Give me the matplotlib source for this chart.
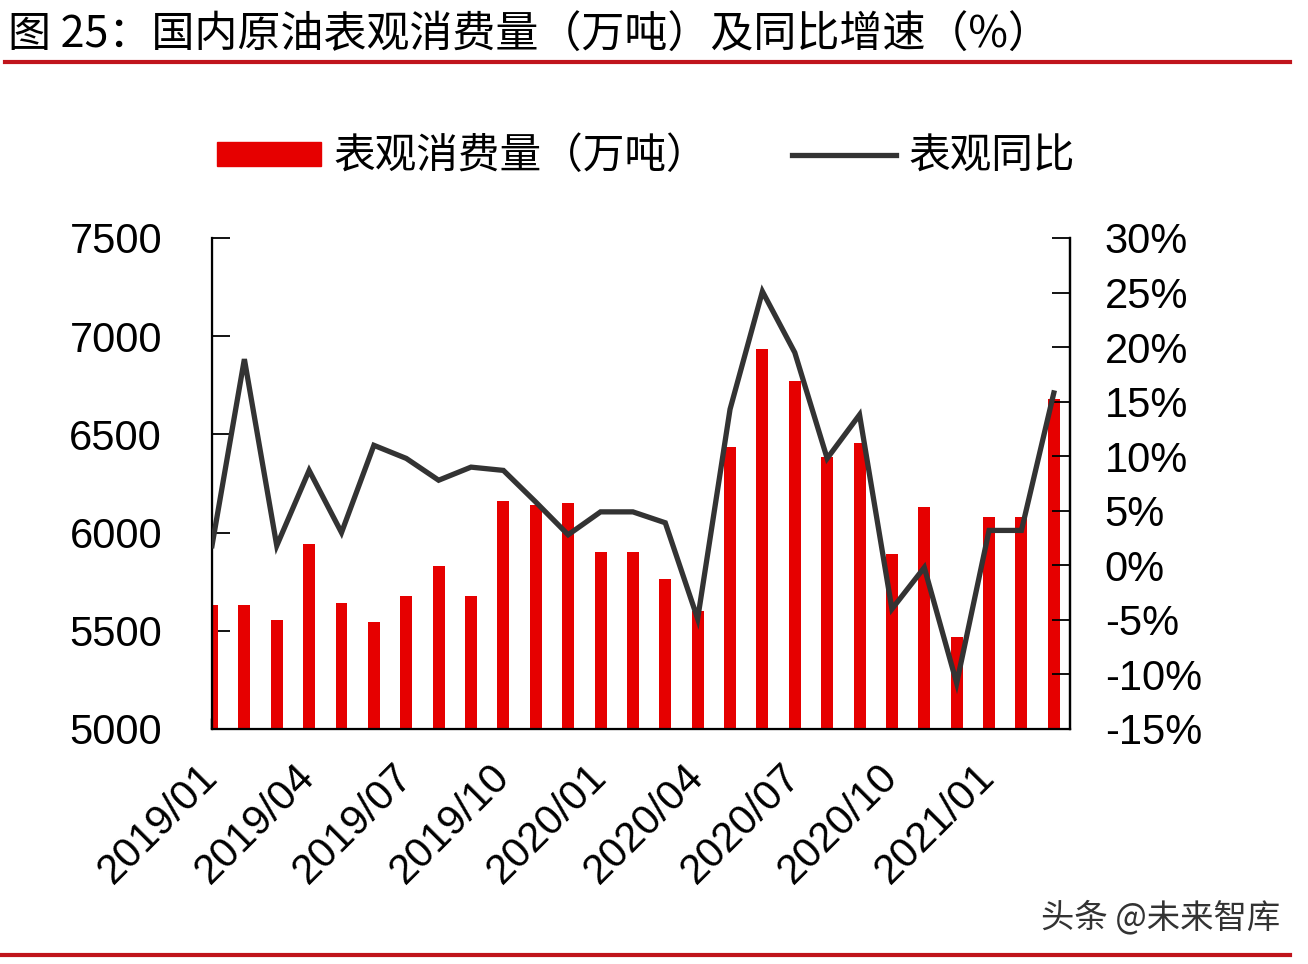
import numpy as np
import matplotlib
matplotlib.use("Agg")
import matplotlib.pyplot as plt
from matplotlib.patches import Patch
from matplotlib.lines import Line2D

plt.rcParams['font.family'] = ['Noto Sans CJK SC', 'DejaVu Sans']

months = ['2019/01', '2019/02', '2019/03', '2019/04', '2019/05', '2019/06', '2019/07',
          '2019/08', '2019/09', '2019/10', '2019/11', '2019/12', '2020/01', '2020/02',
          '2020/03', '2020/04', '2020/05', '2020/06', '2020/07', '2020/08', '2020/09',
          '2020/10', '2020/11', '2020/12', '2021/01', '2021/02', '2021/03']
consumption = [5629, 5629, 5555, 5943, 5640, 5545, 5675, 5829, 5679, 6161, 6141, 6152,
               5902, 5902, 5766, 5600, 6437, 6937, 6772, 6387, 6455, 5893, 6128, 5470,
               6078, 6078, 6680]
yoy = [1.8, 18.9, 1.8, 8.7, 3.0, 11.0, 9.8, 7.8, 9.0, 8.7, 5.8, 2.8, 4.9, 4.9, 3.9,
       -4.9, 14.3, 25.1, 19.5, 9.8, 13.8, -4.0, -0.2, -10.8, 3.2, 3.2, 15.8]
left_ticks = [5000, 5500, 6000, 6500, 7000, 7500]
right_ticks = [-15, -10, -5, 0, 5, 10, 15, 20, 25, 30]

num_font = 'Liberation Sans'
red = '#E60000'
dark = '#333333'

fig = plt.figure(figsize=(13.08, 9.64), dpi=100)
ax = fig.add_axes([212 / 1308, 1 - 729 / 964, (1070 - 212) / 1308, (729 - 238) / 964])
x = np.arange(len(months))

ax.bar(x, consumption, width=0.37, color=red, zorder=2)
ax.set_ylim(5000, 7500)
ax.set_xlim(0, len(months) - 0.5)
ax.set_yticks(left_ticks)
ax.set_yticklabels([str(v) for v in left_ticks], fontsize=30, family=num_font)
ax.set_xticks(x[::3])
ax.set_xticklabels(months[::3], fontsize=30, family=num_font, rotation=45,
                   ha='right', va='center', rotation_mode='anchor')
ax.tick_params(axis='y', direction='in', length=13, width=1.3, pad=36)
ax.tick_params(axis='x', direction='in', length=8, width=2.5, pad=30)
ax.spines['top'].set_visible(False)
for s in ['left', 'bottom', 'right']:
    ax.spines[s].set_linewidth(1.6)

ax2 = ax.twinx()
ax2.plot(x, yoy, color=dark, lw=3.8, zorder=3, solid_joinstyle='miter')
ax2.set_ylim(-15, 30)
ax2.set_yticks(right_ticks)
ax2.set_yticklabels([f'{v}%' for v in right_ticks], fontsize=30, family=num_font)
ax2.tick_params(axis='y', direction='in', length=13, width=1.3, pad=25)
ax2.spines['top'].set_visible(False)
ax2.spines['right'].set_linewidth(1.6)

handles = [Patch(color=red), Line2D([0], [0], color=dark, lw=3.8)]
fig.legend(handles, ['表观消费量（万吨）', '表观同比'], loc='center',
           bbox_to_anchor=(0.494, 1 - 157 / 964), ncol=2, frameon=False,
           fontsize=30, handlelength=2.5, handleheight=0.5, handletextpad=0.3,
           columnspacing=2.0)

fig.text(8 / 1308, 1 - 36 / 964, '图 25：国内原油表观消费量（万吨）及同比增速（%）',
         fontsize=31, va='center', ha='left')
fig.add_artist(Line2D([5 / 1308, 1290 / 1308], [1 - 62 / 964] * 2, color='#C0141C', lw=3))
fig.add_artist(Line2D([0, 1290 / 1308], [1 - 955 / 964] * 2, color='#C0141C', lw=3))
fig.text(1280 / 1308, 1 - 918 / 964, '头条 @未来智库', fontsize=24, color='#333333',
         ha='right', va='center')

fig.savefig('out.png', dpi=100, facecolor='white')
